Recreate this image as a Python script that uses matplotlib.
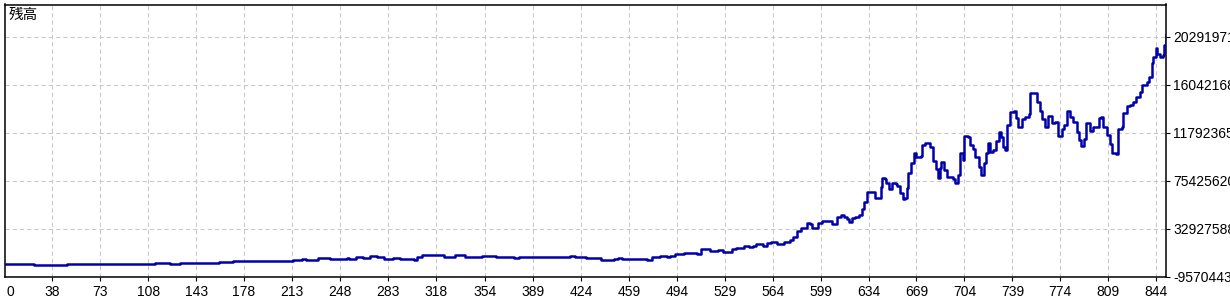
import numpy as np
import matplotlib
matplotlib.use("Agg")
import matplotlib.pyplot as plt

# balance curve (trade number, balance in millions)
trade = [0, 25, 49, 113, 124, 131, 136, 151, 160, 170, 177, 187, 206, 214, 220, 223,
         232, 241, 253, 255, 260, 265, 270, 275, 280, 287, 292, 302, 304, 308, 315, 320,
         324, 332, 339, 352, 362, 375, 379, 396, 401, 409, 416, 420, 428, 439, 448, 451,
         454, 472, 476, 482, 487, 489, 493, 499, 509, 512, 518, 524, 528, 534, 537, 543,
         547, 550, 552, 557, 560, 563, 567, 572, 577, 579, 582, 585, 589, 591, 593, 595,
         597, 600, 606, 607, 610, 611, 614, 616, 618, 620, 622, 624, 627, 629, 631, 633,
         637, 639, 642, 643, 644, 646, 647, 649, 651, 654, 655, 657, 659, 661, 662, 663,
         665, 667, 669, 672, 673, 675, 678, 679, 681, 683, 685, 686, 687, 689, 691, 693,
         696, 697, 699, 701, 703, 704, 707, 708, 710, 712, 715, 716, 718, 720, 721, 723,
         725, 727, 729, 731, 732, 734, 735, 737, 740, 742, 743, 746, 748, 751, 752, 754,
         757, 759, 761, 763, 765, 768, 770, 772, 775, 777, 779, 781, 783, 786, 788, 789,
         791, 793, 796, 798, 802, 804, 805, 808, 810, 812, 815, 816, 819, 820, 823, 825,
         827, 829, 832, 834, 837, 839, 841, 842, 844, 845, 847, 849, 850, 851]
balance_mln = [1.50, 0.88, 1.50, 2.38, 1.76, 2.38, 2.65, 2.38, 3.00, 3.89, 4.42, 3.89, 4.42, 5.04, 6.19, 5.30,
               6.54, 6.19, 6.81, 6.19, 7.96, 7.07, 8.85, 7.60, 6.19, 7.07, 6.19, 5.30, 7.43, 9.73, 9.20, 9.73,
               7.96, 9.73, 7.96, 8.85, 7.96, 7.07, 7.43, 7.96, 7.43, 7.70, 8.58, 7.43, 7.07, 5.30, 6.19, 6.81,
               6.19, 5.30, 7.43, 8.31, 7.96, 8.58, 10.62, 11.24, 10.35, 14.78, 13.01, 13.89, 12.39, 14.50, 15.40, 17.43,
               16.28, 17.17, 18.94, 17.43, 19.82, 20.98, 19.50, 21.24, 23.01, 25.67, 30.98, 33.37, 37.53, 36.65, 33.64, 33.64,
               37.53, 39.30, 39.80, 37.18, 37.18, 42.84, 44.62, 42.84, 41.60, 38.95, 41.96, 43.38, 45.10, 49.93, 56.66, 65.51,
               64.98, 60.20, 60.20, 69.41, 77.37, 76.50, 72.95, 67.64, 72.95, 72.30, 70.56, 64.09, 59.05, 59.70, 68.52, 81.80,
               91.19, 100.04, 96.50, 97.10, 106.86, 108.89, 108.89, 105.35, 92.96, 85.34, 77.37, 86.23, 92.07, 84.72, 78.26, 78.79,
               76.75, 72.95, 80.30, 100.04, 93.58, 114.83, 114.20, 106.86, 103.05, 95.97, 87.64, 80.30, 90.65, 99.51, 108.36, 100.93,
               102.43, 110.40, 118.10, 113.68, 105.35, 102.43, 124.57, 136.34, 137.23, 130.50, 123.06, 129.61, 131.91, 134.30, 152.63, 153.16,
               145.19, 137.23, 129.61, 123.06, 132.53, 126.07, 127.49, 114.83, 120.76, 124.57, 137.23, 131.91, 127.49, 118.63, 111.28, 105.97,
               112.30, 126.07, 119.52, 123.06, 130.50, 131.38, 123.06, 115.71, 107.74, 99.51, 98.89, 120.76, 123.06, 134.92, 141.39, 142.30,
               145.19, 149.62, 154.05, 159.98, 162.90, 167.33, 179.19, 185.04, 192.47, 187.16, 184.50, 186.60, 195.40, 204.25]

x_ticks = [38, 73, 108, 143, 178, 213, 248, 283, 318, 354, 389, 424, 459,
           494, 529, 564, 599, 634, 669, 704, 739, 774, 809, 844]
y_ticks = [-9570443, 32927588, 75425620, 117923652, 160421684, 202919716]
title_text = "残高"

plt.rcParams['font.family'] = ['Liberation Sans', 'DejaVu Sans']
plt.rcParams['lines.scale_dashes'] = False

W, H = 1230, 300
fig = plt.figure(figsize=(W / 100, H / 100), dpi=100)
ax = fig.add_axes([4.5 / W, 23.5 / H, (1165.7 - 4.5) / W, (276.5 - 4.5) / H])

balance = np.array(balance_mln) * 1e6
ax.plot(trade, balance, color='#0000AA', lw=1.8, zorder=3, drawstyle='steps-post')

ax.set_xlim(3.1, 851)
ax.set_ylim(y_ticks[0], 231.3e6)

ax.set_xticks(x_ticks)
ax.set_xticklabels([str(t) for t in x_ticks])
ax.yaxis.tick_right()
ax.set_yticks(y_ticks)
ax.set_yticklabels([str(v) for v in y_ticks])

ax.grid(True, color='#C8C8C8', linestyle=(0, (3, 2.2)), linewidth=0.75)
ax.tick_params(axis='both', direction='out', length=3, width=0.8,
               labelsize=10, colors='black')
ax.tick_params(axis='x', pad=3)
ax.tick_params(axis='y', pad=2.5)
for s in ax.spines.values():
    s.set_linewidth(1.1)
    s.set_color('black')

# first label sits at the left edge, no gridline there
ax.annotate('0', xy=(0, 0), xycoords='axes fraction', xytext=(1.5, -6),
            textcoords='offset points', ha='left', va='top', fontsize=10)

ax.text(4.5 / (1165.7 - 4.5), 1 - 3.5 / (276.5 - 4.5), title_text, transform=ax.transAxes,
        fontsize=10.5, va='top', ha='left', family=['Noto Sans CJK JP', 'DejaVu Sans'])

fig.savefig('out.png', dpi=100)
